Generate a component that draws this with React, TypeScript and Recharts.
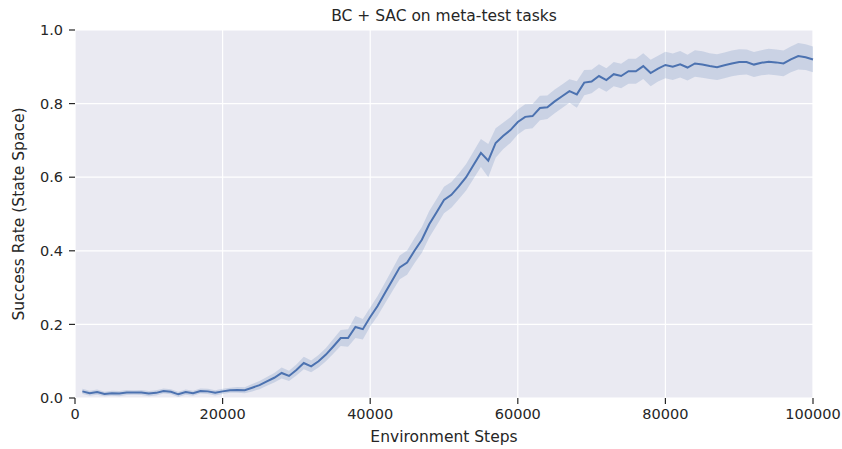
import {
  ComposedChart,
  Area,
  Line,
  XAxis,
  YAxis,
  CartesianGrid,
} from "recharts";

const TITLE = "BC + SAC on meta-test tasks";
const X_LABEL = "Environment Steps";
const Y_LABEL = "Success Rate (State Space)";

// success rate logged every 1000 environment steps (1000 .. 100000)
const STEP_INTERVAL = 1000;

const meanSuccess = [
  0.018, 0.013, 0.016, 0.011, 0.013, 0.012, 0.015, 0.015, 0.015, 0.012,
  0.014, 0.019, 0.017, 0.01, 0.016, 0.013, 0.019, 0.018, 0.014, 0.018,
  0.021, 0.022, 0.021, 0.028, 0.035, 0.045, 0.055, 0.068, 0.06, 0.076,
  0.095, 0.086, 0.1, 0.118, 0.14, 0.163, 0.163, 0.193, 0.187, 0.22,
  0.25, 0.285, 0.32, 0.355, 0.368, 0.4, 0.43, 0.472, 0.505, 0.538,
  0.552, 0.575, 0.6, 0.633, 0.666, 0.645, 0.693, 0.712, 0.728, 0.75,
  0.764, 0.766, 0.788, 0.79, 0.806, 0.82, 0.834, 0.825, 0.857, 0.86,
  0.875, 0.864, 0.88, 0.875, 0.888, 0.888, 0.902, 0.883, 0.895, 0.905,
  0.9, 0.907, 0.898, 0.909, 0.906, 0.902, 0.899, 0.904, 0.909, 0.913,
  0.913, 0.906, 0.911, 0.914, 0.912, 0.909, 0.92, 0.929, 0.926, 0.92,
];

// half width of the shaded confidence band
const ciHalfWidth = [
  0.007, 0.007, 0.007, 0.006, 0.007, 0.007, 0.007, 0.006, 0.007, 0.007,
  0.007, 0.007, 0.007, 0.007, 0.007, 0.007, 0.007, 0.007, 0.007, 0.007,
  0.007, 0.008, 0.008, 0.01, 0.011, 0.012, 0.013, 0.015, 0.014, 0.015,
  0.017, 0.016, 0.017, 0.018, 0.02, 0.022, 0.024, 0.03, 0.028, 0.026,
  0.027, 0.028, 0.03, 0.032, 0.033, 0.034, 0.035, 0.036, 0.036, 0.036,
  0.035, 0.035, 0.036, 0.037, 0.038, 0.045, 0.04, 0.036, 0.035, 0.034,
  0.034, 0.033, 0.033, 0.032, 0.032, 0.032, 0.032, 0.036, 0.034, 0.032,
  0.032, 0.032, 0.033, 0.033, 0.034, 0.034, 0.035, 0.036, 0.035, 0.036,
  0.036, 0.036, 0.035, 0.036, 0.036, 0.035, 0.035, 0.035, 0.035, 0.035,
  0.034, 0.034, 0.034, 0.035, 0.035, 0.035, 0.035, 0.036, 0.035, 0.035,
];

const xTicks = [0, 20000, 40000, 60000, 80000, 100000];
const yTicks = [0, 0.2, 0.4, 0.6, 0.8, 1.0];

const data = meanSuccess.map((m, i) => ({
  step: (i + 1) * STEP_INTERVAL,
  mean: m,
  band: [m - ciHalfWidth[i], m + ciHalfWidth[i]],
}));

const FONT = "'DejaVu Sans', sans-serif";
const INK = "#262626";
const BLUE = "#4C72B0";

export default function App() {
  return (
    <div
      style={{
        position: "absolute",
        left: 0,
        top: 0,
        width: 842,
        height: 449,
        background: "#fff",
        fontFamily: FONT,
        color: INK,
      }}
    >
      <div
        style={{
          position: "absolute",
          left: 75,
          width: 738,
          top: 6,
          textAlign: "center",
          fontSize: 15.5,
          lineHeight: "20px",
        }}
      >
        {TITLE}
      </div>
      <div
        style={{
          position: "absolute",
          left: 75,
          width: 738,
          top: 427,
          textAlign: "center",
          fontSize: 15.5,
          lineHeight: "20px",
        }}
      >
        {X_LABEL}
      </div>
      <div
        style={{
          position: "absolute",
          left: 19,
          top: 214,
          fontSize: 15.5,
          lineHeight: "20px",
          whiteSpace: "nowrap",
          transform: "translate(-50%, -50%) rotate(-90deg)",
        }}
      >
        {Y_LABEL}
      </div>
      <ComposedChart
        width={842}
        height={449}
        data={data}
        margin={{ top: 30, right: 29, bottom: 21, left: 0 }}
      >
        <CartesianGrid
          fill="#EAEAF2"
          stroke="#ffffff"
          strokeWidth={1.2}
          verticalPoints={undefined}
        />
        <XAxis
          dataKey="step"
          type="number"
          domain={[0, 100000]}
          ticks={xTicks}
          height={30}
          axisLine={false}
          tickSize={6}
          tickMargin={5}
          tickLine={{ stroke: INK, strokeWidth: 1.2 }}
          tick={{ fill: INK, fontSize: 14.5, fontFamily: FONT }}
        />
        <YAxis
          type="number"
          domain={[0, 1]}
          ticks={yTicks}
          width={75}
          axisLine={false}
          tickSize={6}
          tickMargin={6}
          tickLine={{ stroke: INK, strokeWidth: 1.2 }}
          tick={{ fill: INK, fontSize: 14.5, fontFamily: FONT }}
          tickFormatter={(v: number) => v.toFixed(1)}
        />
        <Area
          dataKey="band"
          type="linear"
          stroke="none"
          fill={BLUE}
          fillOpacity={0.2}
          isAnimationActive={false}
        />
        <Line
          dataKey="mean"
          type="linear"
          stroke={BLUE}
          strokeWidth={2}
          dot={false}
          activeDot={false}
          isAnimationActive={false}
        />
      </ComposedChart>
    </div>
  );
}
